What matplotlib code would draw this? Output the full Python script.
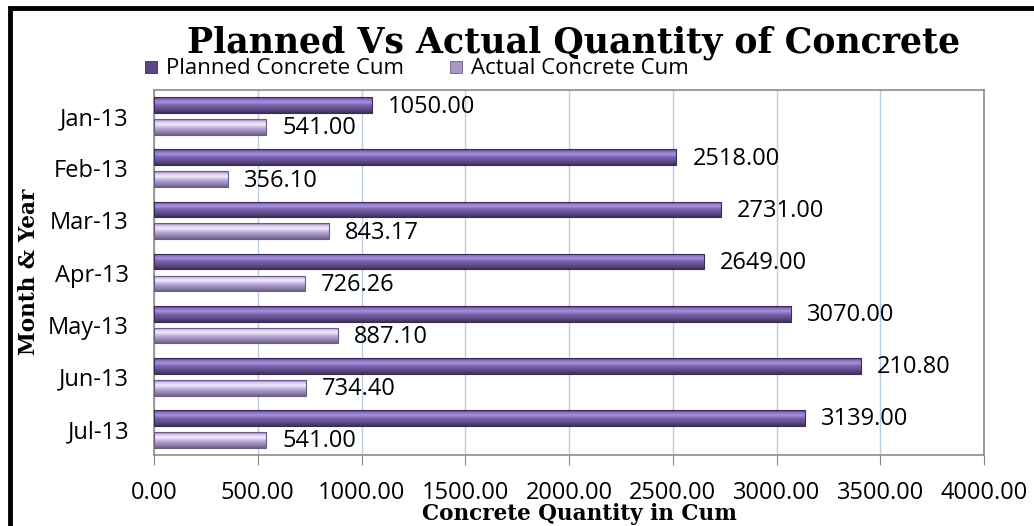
import numpy as np
import matplotlib
matplotlib.use("Agg")
import matplotlib.pyplot as plt
from matplotlib.colors import LinearSegmentedColormap
from matplotlib.patches import Rectangle

months = ["Jan-13", "Feb-13", "Mar-13", "Apr-13", "May-13", "Jun-13", "Jul-13"]
planned = [1050.00, 2518.00, 2731.00, 2649.00, 3070.00, 3405.00, 3139.00]
planned_labels = ["1050.00", "2518.00", "2731.00", "2649.00", "3070.00", "210.80", "3139.00"]
actual = [541.00, 356.10, 843.17, 726.26, 887.10, 734.40, 541.00]
actual_labels = ["541.00", "356.10", "843.17", "726.26", "887.10", "734.40", "541.00"]
xticks = [0, 500, 1000, 1500, 2000, 2500, 3000, 3500, 4000]

sans = ["Open Sans", "DejaVu Sans"]
serif = ["DejaVu Serif"]

# gradient colours bottom -> top
planned_cmap = LinearSegmentedColormap.from_list(
    "pl", ["#3f2f60", "#58447f", "#6a549a", "#7c65b0", "#a891dc", "#8f79c4", "#4d3b73"])
actual_cmap = LinearSegmentedColormap.from_list(
    "ac", ["#6e5f8c", "#8f80ab", "#a898c6", "#cbbbe6", "#f3eafc", "#d9cbed", "#8a7aa5"])

fig = plt.figure(figsize=(10.34, 5.26), dpi=100)
ax = fig.add_axes([154 / 1034, 1 - 455 / 526, 830 / 1034, 365 / 526])

y = np.arange(len(months))
h = 0.30
off = 0.21
grad = np.linspace(0, 1, 64).reshape(-1, 1)

def gradient_bars(vals, ypos, cmap, edge):
    bars = ax.barh(ypos, vals, height=h, color="none", edgecolor=edge, linewidth=0.8, zorder=3)
    for b in bars:
        y0 = b.get_y()
        im = ax.imshow(grad, extent=[0, b.get_width(), y0 + b.get_height(), y0],
                       cmap=cmap, aspect="auto", origin="lower", zorder=2.5)
        im.set_clip_path(b)
    return bars

# y axis is inverted (Jan on top)
gradient_bars(planned, y - off, planned_cmap, "#3a2b58")
gradient_bars(actual, y + off, actual_cmap, "#6a5b86")

for i in range(len(months)):
    ax.annotate(planned_labels[i], (planned[i], y[i] - off), xytext=(11.5, -1),
                textcoords="offset points", va="center", ha="left",
                fontsize=17, family=sans, color="#000000")
    ax.annotate(actual_labels[i], (actual[i], y[i] + off), xytext=(11.5, -1),
                textcoords="offset points", va="center", ha="left",
                fontsize=17, family=sans, color="#000000")

ax.set_xlim(0, 4000)
ax.set_ylim(len(months) - 0.5, -0.5)
ax.set_xticks(xticks)
ax.set_xticklabels(["%.2f" % v for v in xticks], fontsize=17, family=sans)
ax.set_yticks(y)
ax.set_yticklabels(months, fontsize=17, family=sans)
ax.tick_params(axis="y", length=0, pad=18)
ax.tick_params(axis="x", length=7, color="#868686", pad=11.5, direction="out")
ax.grid(axis="x", color="#b9cde5", linewidth=1, zorder=0)
ax.set_axisbelow(True)
for s in ax.spines.values():
    s.set_color("#8c8c8c")
    s.set_linewidth(1.2)

ax.set_xlabel("Concrete Quantity in Cum", fontsize=15.5, family=serif, fontweight="bold")
ax.xaxis.set_label_coords(0.513, -0.131)
ax.set_ylabel("Month & Year", fontsize=15.5, family=serif, fontweight="bold")
ax.yaxis.label.set_verticalalignment("center")
ax.yaxis.set_label_coords(-0.1506, 0.501)

fig.text(0.5545, 1 - 52 / 526, "Planned Vs Actual Quantity of Concrete", ha="center", va="baseline",
         fontsize=25, family=serif, fontweight="bold")

# legend: small square swatches + labels
W, H = 1034, 526
fig.patches.append(Rectangle((145 / W, 1 - 73 / H), 12 / W, 12 / H, transform=fig.transFigure,
                             facecolor="#5a4585", edgecolor="#3a2b58", linewidth=0.6))
fig.text(166 / W, 1 - 68 / H, "Planned Concrete Cum", fontsize=16, family=sans, ha="left", va="center")
fig.patches.append(Rectangle((450 / W, 1 - 73 / H), 12 / W, 12 / H, transform=fig.transFigure,
                             facecolor="#a898c6", edgecolor="#6a5b86", linewidth=0.6))
fig.text(471 / W, 1 - 68 / H, "Actual Concrete Cum", fontsize=16, family=sans, ha="left", va="center")

# chart border
fig.patches.append(Rectangle((10 / W, -0.1), 1.2, 1 - 8 / H + 0.1, transform=fig.transFigure,
                             fill=False, edgecolor="black", linewidth=3.5))

fig.savefig("out.png", dpi=100)
